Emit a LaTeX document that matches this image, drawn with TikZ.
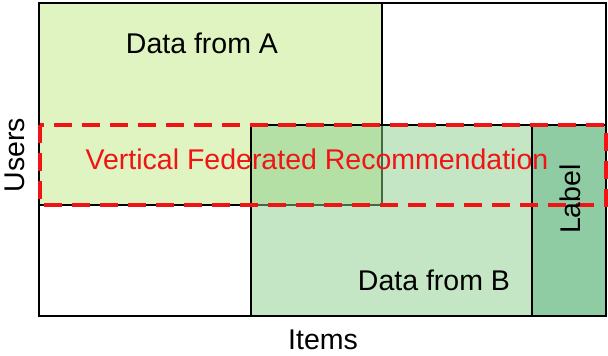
\documentclass[tikz,border=0pt]{standalone}
\usepackage{fontspec}
\setmainfont{Liberation Sans}
\usepackage{xcolor}
\usetikzlibrary{positioning}

\definecolor{fillA}{RGB}{223,244,192}
\definecolor{fillB}{RGB}{140,206,140}
\definecolor{fillLabel}{RGB}{143,203,163}
\definecolor{vfrRed}{RGB}{240,20,20}

\begin{document}
\begin{tikzpicture}[x=1pt, y=-1pt,
    txt/.style={font=\fontsize{28.5}{31}\selectfont, inner sep=0pt},
    frame/.style={draw=black, line width=2pt},
    partA/.style={fill=fillA, draw=black, line width=1.3pt},
    partB/.style={fill=fillB, fill opacity=0.5, draw=black, draw opacity=1, line width=1.3pt},
    labelpart/.style={fill=fillLabel, draw=black, line width=1.3pt},
    vfr/.style={draw=vfrRed, line width=4pt, dash pattern=on 18pt off 10pt}]

    \useasboundingbox (0,0) rectangle (608,356);

    % matrix of users x items
    \fill[white] (39,3) rectangle (606,316);
    \draw[partA] (39,3) rectangle (382,205);
    \draw[partB] (251,125) rectangle (532,316);
    \draw[labelpart] (532,125) rectangle (606,316);
    \draw[frame] (39,3) rectangle (606,316);

    % overlapping users
    \draw[vfr] (40,125) rectangle (606,205);

    \node[txt] (dataA) at (202,43) {Data from A};
    \node[txt] (dataB) at (434,280) {Data from B};
    \node[txt, rotate=90] (label) at (570,199) {Label};
    \node[txt, text=vfrRed] (vfrtext) at (317,159) {Vertical Federated Recommendation};
    \node[txt, rotate=90] (users) at (15,155) {Users};
    \node[txt] (items) at (323,340) {Items};
\end{tikzpicture}
\end{document}
